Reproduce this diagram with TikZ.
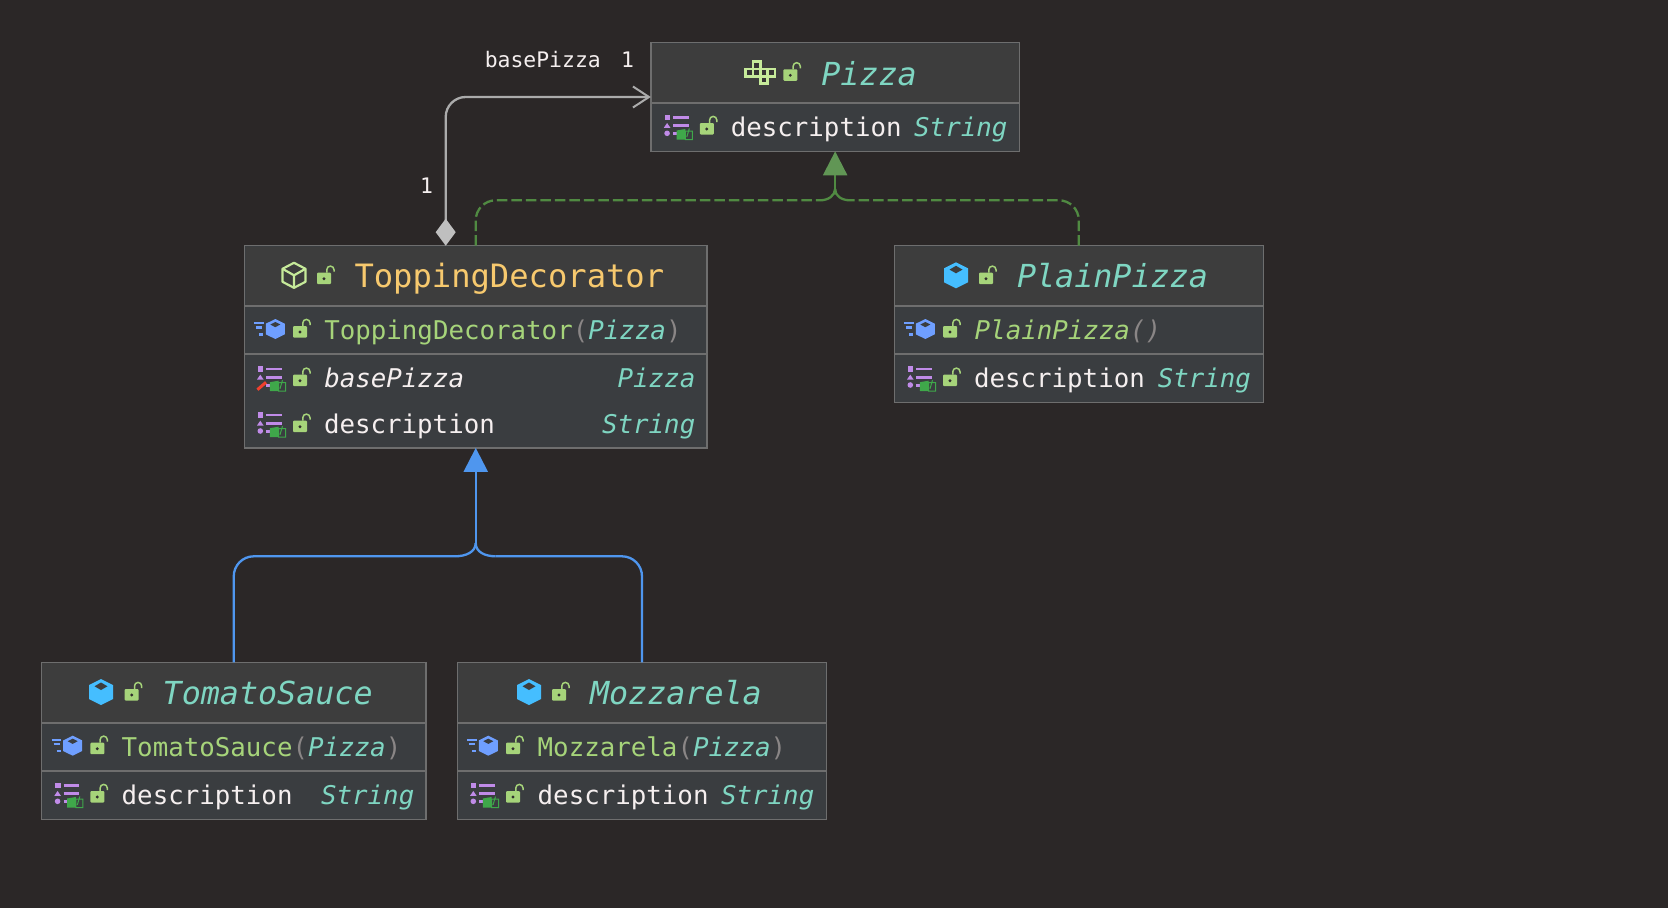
\documentclass[tikz,border=0pt]{standalone}
\usepackage{fontspec}
\usetikzlibrary{arrows.meta,calc}
\newfontfamily\monof{DejaVu Sans Mono}
\definecolor{bgc}{HTML}{2B2727}
\definecolor{hdrfill}{HTML}{3D3D3D}
\definecolor{rowfill}{HTML}{3A3D40}
\definecolor{edgec}{HTML}{6E6E6E}
\definecolor{teal}{HTML}{7FD6C2}
\definecolor{yel}{HTML}{F7C96E}
\definecolor{grn}{HTML}{A6D47A}
\definecolor{wht}{HTML}{F5EFEF}
\definecolor{par}{HTML}{8A8686}
\definecolor{bluel}{HTML}{4F96EE}
\definecolor{greenl}{HTML}{508A42}
\definecolor{grayl}{HTML}{ABABAB}
\definecolor{diam}{HTML}{BFBFBF}
\definecolor{cls}{HTML}{45BEFF}
\definecolor{ctor}{HTML}{6F9FFF}
\definecolor{purp}{HTML}{C08BE8}
\definecolor{book}{HTML}{3FA84A}
\definecolor{lck}{HTML}{A6D47A}
\definecolor{absc}{HTML}{C6EA9A}
\definecolor{redp}{HTML}{F0402E}
\tikzset{
  x=1pt,y=-1pt,
  umlbox/.style={draw=edgec,line width=1.5pt,fill=rowfill,inner sep=0pt,outer sep=0pt,anchor=north west},
  sepl/.style={draw=edgec,line width=1.6pt},
  hdrt/.style={anchor=base west,inner sep=0pt,outer sep=0pt,yshift=-1pt,font=\monof\fontsize{31.7}{36}\selectfont},
  rowt/.style={anchor=base west,inner sep=0pt,outer sep=0pt,yshift=-1pt,font=\monof\fontsize{25.8}{30}\selectfont},
  rowr/.style={anchor=base east,inner sep=0pt,outer sep=0pt,yshift=-1pt,font=\monof\itshape\fontsize{25.8}{30}\selectfont,text=teal},
  labt/.style={anchor=base,inner sep=0pt,outer sep=0pt,font=\monof\fontsize{21.4}{26}\selectfont,text=wht},
  lockic/.pic={
    \fill[lck,rounded corners=1pt] (0,0) rectangle (14,11.5);
    \fill[bgc!70!hdrfill] (7,6) circle (1.6);
    \draw[lck,line width=1.5pt] (9.8,0) -- (9.8,-3) arc[start angle=180,end angle=360,radius=3.6] -- (17,-1);
  },
  hexfill/.pic={
    \fill[cls] (0,-13) -- (12,-7) -- (12,7) -- (0,13) -- (-12,7) -- (-12,-7) -- cycle;
    \fill[hdrfill] (0,-9.5) -- (6.5,-5.7) -- (0,-2) -- (-6.5,-5.7) -- cycle;
  },
  hexline/.pic={
    \draw[absc,line width=2.2pt,line join=round] (0,-12.5) -- (11.5,-6.5) -- (11.5,6.5) -- (0,12.5) -- (-11.5,6.5) -- (-11.5,-6.5) -- cycle;
    \draw[absc,line width=2.2pt,line join=round] (-11.5,-6.5) -- (0,0) -- (11.5,-6.5) (0,0) -- (0,12.5);
  },
  ctoric/.pic={
    \fill[ctor] (0,-10) -- (9.5,-5.3) -- (9.5,5.3) -- (0,10) -- (-9.5,5.3) -- (-9.5,-5.3) -- cycle;
    \fill[rowfill] (0,-7) -- (5,-4.5) -- (0,-1.8) -- (-5,-4.5) -- cycle;
    \draw[ctor,line width=2.4pt] (-21,-6) -- (-11.5,-6) (-19,-1.5) -- (-13,-1.5) (-16,5.5) -- (-12,5.5);
  },
  fieldbase/.pic={
    \fill[purp] (-35.3,-8.3) rectangle (-29.7,-2.7);
    \fill[purp] (-36,4.8) -- (-32.7,0) -- (-29.4,4.8) -- cycle;
    \draw[purp,line width=2.6pt] (-26.7,-5.7) -- (-11.3,-5.7) (-26.7,2.7) -- (-11.3,2.7) (-26.7,10.7) -- (-22,10.7);
    \fill[book] (-23.2,7.5) -- (-14.5,6) -- (-14.5,16.5) -- (-23.2,16.5) -- cycle;
    \draw[book,line width=1pt] (-14.5,16.5) rectangle (-7.5,8) (-13,14) -- (-10.5,5.5);
  },
  fieldic/.pic={
    \pic at (0,0) {fieldbase};
    \fill[purp] (-32.7,10.3) circle (2.8);
  },
  fieldro/.pic={
    \pic at (0,0) {fieldbase};
    \draw[redp,line width=3pt] (-35.6,15) -- (-27,7.6);
  },
  ifaceic/.pic={
    \foreach \cx/\cy in {7.3/0,0/7.3,7.3/7.3,14.6/7.3,21.9/7.3,14.6/14.6}{
      \draw[absc,fill=bgc!40!hdrfill,line width=2.6pt] (\cx,\cy) rectangle ++(7.3,7.3);
    }
  },
}
\newcommand{\mkbox}[6]{%
  \pgfmathsetmacro{\bw}{#4-#2}\pgfmathsetmacro{\bh}{#5-#3}%
  \node[umlbox,minimum width=\bw pt,minimum height=\bh pt] (#1) at (#2,#3) {};%
  \fill[hdrfill] (#2+1,#3+1) rectangle (#4-1,#6);%
  \draw[sepl] (#2,#6) -- (#4,#6);%
}
\begin{document}
\begin{tikzpicture}
\useasboundingbox (0,0) rectangle (1668,908);
\fill[bgc] (0,0) rectangle (1668,908);

% ---------- boxes
\mkbox{pizza}{650.8}{42.7}{1019.5}{151.3}{103}
\mkbox{topping}{244.5}{245.7}{707}{447.9}{306}
\draw[sepl] (244.5,354) -- (707,354);
\mkbox{plain}{894.3}{245.7}{1263.3}{402.3}{306}
\draw[sepl] (894.3,354) -- (1263.3,354);
\mkbox{tomato}{41.3}{662.3}{426.2}{819.3}{722.7}
\draw[sepl] (41.3,771) -- (426.2,771);
\mkbox{mozz}{457.6}{662.3}{826.4}{819.3}{722.7}
\draw[sepl] (457.6,771) -- (826.4,771);

% ---------- Pizza
\pic at (745.7,61.7) {ifaceic};
\pic at (783.3,69.3) {lockic};
\node[hdrt,text=teal] (pizzat) at (821.3,84) {\itshape Pizza};
\pic at (699.8,123) {lockic};
\pic at (699.8,123) {fieldic};
\node[rowt,text=wht] (pizzad) at (730.8,135.7) {description};
\node[rowr] (pizzas) at (1007.4,135.7) {String};

% ---------- ToppingDecorator
\pic at (294,275.3) {hexline};
\pic at (317,272.7) {lockic};
\node[hdrt,text=yel,font=\monof\fontsize{32.15}{36}\selectfont] (toppingt) at (354.5,286.7) {ToppingDecorator};
\pic at (275.3,329) {ctoric};
\pic at (293,326) {lockic};
\node[rowt,text=grn] (toppingc) at (324.3,338.7) {ToppingDecorator\textcolor{par}{(}\textcolor{teal}{\itshape Pizza}\textcolor{par}{)}};
\pic at (293,374.7) {lockic};
\pic at (293,374.7) {fieldro};
\node[rowt,text=wht] (toppingb) at (324.3,386.7) {\itshape basePizza};
\node[rowr] (toppingp) at (695.3,386.7) {Pizza};
\pic at (293,420.7) {lockic};
\pic at (293,420.7) {fieldic};
\node[rowt,text=wht] (toppingd) at (324,432.7) {description};
\node[rowr] (toppings) at (695.3,432.7) {String};

% ---------- PlainPizza
\pic at (956,275.3) {hexfill};
\pic at (979,272.7) {lockic};
\node[hdrt,text=teal] (plaint) at (1017,286.7) {\itshape PlainPizza};
\pic at (925.3,329) {ctoric};
\pic at (943,326) {lockic};
\node[rowt,text=grn] (plainc) at (974.7,338.7) {\itshape PlainPizza\textcolor{par}{()}};
\pic at (943,374.7) {lockic};
\pic at (943,374.7) {fieldic};
\node[rowt,text=wht] (plaind) at (974,386.7) {description};
\node[rowr] (plains) at (1251,386.7) {String};

% ---------- TomatoSauce
\pic at (101,692) {hexfill};
\pic at (124.7,689) {lockic};
\node[hdrt,text=teal] (tomatot) at (162.7,703.3) {\itshape TomatoSauce};
\pic at (72.7,745.7) {ctoric};
\pic at (90.3,742.7) {lockic};
\node[rowt,text=grn] (tomatoc) at (121.7,755.3) {TomatoSauce\textcolor{par}{(}\textcolor{teal}{\itshape Pizza}\textcolor{par}{)}};
\pic at (90.3,791) {lockic};
\pic at (90.3,791) {fieldic};
\node[rowt,text=wht] (tomatod) at (121.7,803.3) {description};
\node[rowr] (tomatos) at (414.3,803.3) {String};

% ---------- Mozzarela
\pic at (529,692) {hexfill};
\pic at (552,689) {lockic};
\node[hdrt,text=teal] (mozzt) at (590,703.3) {\itshape Mozzarela};
\pic at (488.3,745.7) {ctoric};
\pic at (506,742.7) {lockic};
\node[rowt,text=grn] (mozzc) at (537.7,755.3) {Mozzarela\textcolor{par}{(}\textcolor{teal}{\itshape Pizza}\textcolor{par}{)}};
\pic at (506,791) {lockic};
\pic at (506,791) {fieldic};
\node[rowt,text=wht] (mozzd) at (537.7,803.3) {description};
\node[rowr] (mozzs) at (814.3,803.3) {String};

% ---------- connectors
\coordinate (bjoin) at (topping.south |- 0,543);
\coordinate (bl) at (455,556.3);
\coordinate (br) at (495.6,556.3);
\draw[bluel,line width=2.3pt,rounded corners=20pt] (tomato.north) |- (bl);
\draw[bluel,line width=2.3pt,rounded corners=20pt] (mozz.north) |- (br);
\draw[bluel,line width=2.3pt] (bl) .. controls (466,556.3) and (475.6,552) .. (bjoin);
\draw[bluel,line width=2.3pt] (br) .. controls (485,556.3) and (475.6,552) .. (bjoin);
\draw[bluel,line width=2.3pt,-{Triangle[length=24pt,width=24pt]}] (bjoin) -- (topping.south);

\coordinate (gjoin) at (pizza.south |- 0,189);
\coordinate (gl) at (820,200.3);
\coordinate (gr) at (850,200.3);
\coordinate (gt) at (topping.north);
\draw[greenl,line width=2.3pt,rounded corners=20pt,dash pattern=on 10.5pt off 4pt] (gt) |- (gl);
\draw[greenl,line width=2.3pt,rounded corners=20pt,dash pattern=on 10.5pt off 4pt] (plain.north) |- (gr);
\draw[greenl,line width=2.3pt] (gl) .. controls (828,200.3) and (834.8,196) .. (gjoin);
\draw[greenl,line width=2.3pt] (gr) .. controls (842,200.3) and (834.8,196) .. (gjoin);
\draw[greenl,line width=2.3pt,-{Triangle[length=24pt,width=24pt,color=greenl!90!white]}] (gjoin) -- (pizza.south);

\coordinate (aggsrc) at (445.7,245.7);
\draw[grayl,line width=2.3pt,rounded corners=20pt,{Diamond[length=27pt,width=20pt,color=diam]}-{Straight Barb[length=16pt,width=21pt,line width=2pt]}] (aggsrc) |- (pizza.west);

% ---------- labels
\node[labt] (lblbase) at (542.8,67) {basePizza};
\node[labt] (lblone) at (627.6,67) {1};
\node[labt] (lbltwo) at (426.6,193) {1};
\end{tikzpicture}
\end{document}
